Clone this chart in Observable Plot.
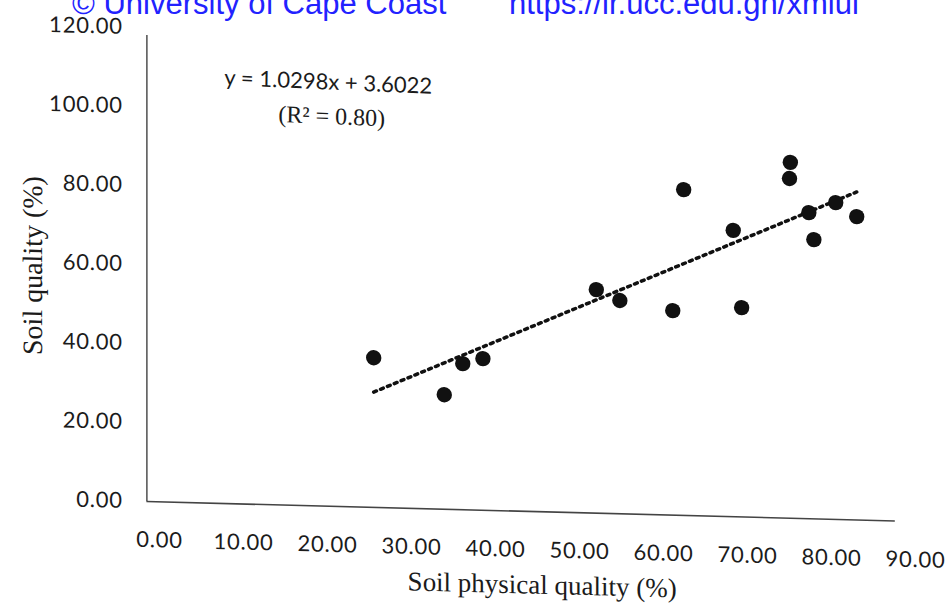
<!DOCTYPE html>
<html>
<head>
<meta charset="utf-8">
<script src="https://cdn.jsdelivr.net/npm/d3@7"></script>
<script src="https://cdn.jsdelivr.net/npm/@observablehq/plot@0.6"></script>
<style>
  html, body { margin: 0; padding: 0; background: #fff; }
  #wrap { position: relative; width: 945px; height: 611px; overflow: hidden; background: #fff; }
  #chart svg { display: block; transform: skewY(1.49deg); transform-origin: 146px 0; }
  .wm { position: absolute; top: -12px; font: 31px "Liberation Sans", Arial, sans-serif; line-height: 31px; color: #2222ff; white-space: pre; }
  g[aria-label="x-axis tick label"], g[aria-label="y-axis tick label"] { letter-spacing: 0.8px; }
</style>
</head>
<body>
<div id="wrap">
  <div id="chart"></div>
  <div class="wm" style="left:72px">© University of Cape Coast</div>
  <div class="wm" style="left:509px">https://ir.ucc.edu.gh/xmlui</div>
</div>
<script>
// Soil physical quality (%) and soil quality (%) for each sample
const physicalQuality = [25.5, 33.9, 36.1, 38.5, 52.0, 54.8, 61.1, 62.4, 68.3, 69.3, 75.1, 75.0, 77.3, 77.9, 80.5, 83.0];
const soilQuality     = [37.9, 29.0, 37.0, 38.4, 56.6, 54.0, 51.8, 82.5, 72.5, 53.0, 90.1, 86.0, 77.5, 70.7, 80.2, 76.8];

const xTicks = [0, 10, 20, 30, 40, 50, 60, 70, 80, 90];
const yTicks = [0, 20, 40, 60, 80, 100, 120];

const xTitle = "Soil physical quality (%)";
const yTitle = "Soil quality (%)";
const equationText = ["y = 1.0298x + 3.6022"];
const equationPos = [{x: 20.1, y: 107.3}];
const r2Text = ["(R² = 0.80)"];
const r2Pos = [{x: 20.5, y: 98.7}];

const data = physicalQuality.map((x, i) => ({x, y: soilQuality[i]}));

const tickFont = "Lato, 'Open Sans', sans-serif";
const serif = "'Liberation Serif', 'Times New Roman', serif";

const chart = Plot.plot({
  width: 945,
  height: 611,
  marginLeft: 146.4,
  marginRight: 30,
  marginTop: 27,
  marginBottom: 110,
  x: {domain: [-1.5, 90]},
  y: {domain: [0, 120]},
  style: {background: "transparent", color: "#1b1b1b", overflow: "visible"},
  marks: [
    Plot.ruleY([0], {x1: -1.5, x2: 87.6, stroke: "#444", strokeWidth: 1.6}),
    Plot.ruleX([-1.5], {y1: 0, y2: 118, stroke: "#333", strokeWidth: 1.3}),
    Plot.axisX({ticks: xTicks, tickFormat: d => d.toFixed(2), tickSize: 0, tickPadding: 30, label: null, fontSize: 22, fontFamily: tickFont, fill: "#1b1b1b"}),
    Plot.axisY({ticks: yTicks, tickFormat: d => d.toFixed(2), tickSize: 0, tickPadding: 24, label: null, fontSize: 22, fontFamily: tickFont, fill: "#1b1b1b"}),
    Plot.linearRegressionY(data, {x: "x", y: "y", ci: 0, stroke: "#111", strokeWidth: 3.5, strokeDasharray: "3 4.5"}),
    Plot.dot(data, {x: "x", y: "y", r: 7.7, fill: "#111", stroke: null}),
    Plot.text(equationText, {x: () => equationPos[0].x, y: () => equationPos[0].y, text: d => d, fontSize: 22, fontFamily: tickFont, fill: "#1b1b1b", rotate: 0.9}),
    Plot.text(r2Text, {x: () => r2Pos[0].x, y: () => r2Pos[0].y, text: d => d, fontSize: 24, fontFamily: serif, fill: "#1b1b1b", rotate: 0.9}),
    Plot.text([xTitle], {frameAnchor: "bottom", text: d => d, textAnchor: "middle", dx: 11, dy: 82, fontSize: 27, fontFamily: serif, fill: "#1b1b1b"}),
    Plot.text([yTitle], {frameAnchor: "left", text: d => d, textAnchor: "middle", dx: -114, dy: 4, rotate: -90, fontSize: 28, fontFamily: serif, fill: "#1b1b1b"})
  ]
});
document.getElementById("chart").appendChild(chart);
</script>
</body>
</html>
